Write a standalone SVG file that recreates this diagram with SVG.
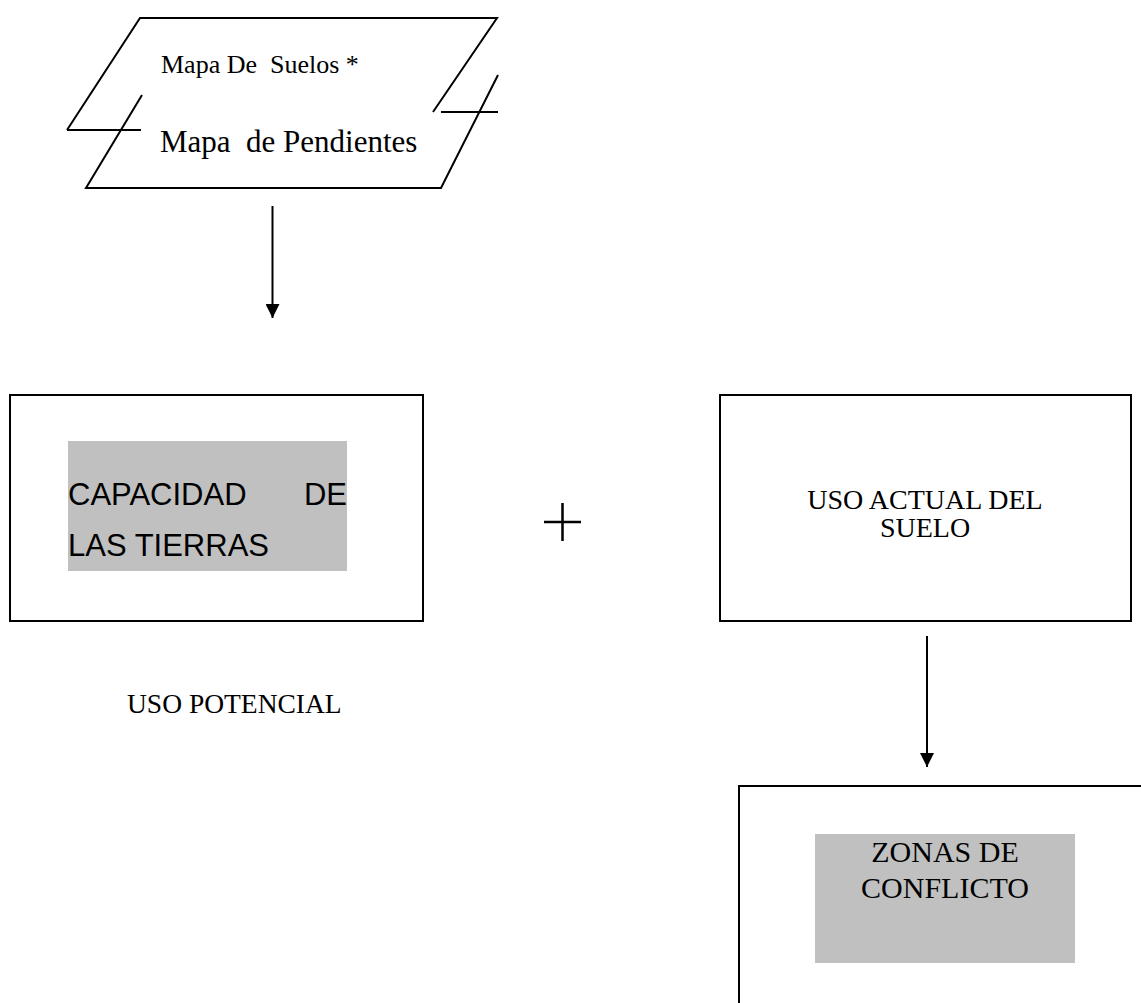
<svg xmlns="http://www.w3.org/2000/svg" width="1141" height="1003" viewBox="0 0 1141 1003">
<style>
.ln{fill:none;stroke:#000;stroke-width:2}
.box{fill:#fff;stroke:#000;stroke-width:2}
.gray{fill:#c0c0c0;stroke:none}
.serif{font-family:"Liberation Serif","Times New Roman",serif;fill:#000}
.sans{font-family:"Liberation Sans",Arial,sans-serif;fill:#000}
</style>
<defs>
<marker id="arr" markerWidth="7" markerHeight="7" refX="7" refY="3.5" orient="auto" markerUnits="strokeWidth">
<path d="M0,0 L7,3.5 L0,7 Z" fill="#000"/>
</marker>
</defs>
<rect width="1141" height="1003" fill="#fff"/>
<g id="maps">
<path class="ln" d="M67,130 L140,18 L497,18 L433,112"/>
<path class="ln" d="M67,130 L141,130"/>
<path class="ln" d="M142,95 L86,188 L441,188 L498,75"/>
<path class="ln" d="M441,112 L498,112"/>
<text class="serif" x="161" y="73" font-size="26" xml:space="preserve">Mapa De  Suelos *</text>
<text class="serif" x="160" y="152" font-size="31" xml:space="preserve">Mapa  de Pendientes</text>
</g>
<g id="capacidad">
<rect class="box" x="10" y="395" width="413" height="226"/>
<rect class="gray" x="68" y="441" width="279" height="130"/>
<text class="sans" x="68" y="505" font-size="31">CAPACIDAD</text>
<text class="sans" x="347" y="505" font-size="31" text-anchor="end">DE</text>
<text class="sans" x="68" y="556" font-size="31">LAS TIERRAS</text>
</g>
<g id="plus">
<path class="ln" style="stroke-width:2.5" d="M544,522 L581,522 M562.5,503 L562.5,541"/>
</g>
<g id="uso-actual">
<rect class="box" x="720" y="395" width="411" height="226"/>
<text class="serif" x="925" y="509" font-size="28" text-anchor="middle">USO ACTUAL DEL</text>
<text class="serif" x="925" y="537" font-size="28" text-anchor="middle">SUELO</text>
</g>
<g id="uso-potencial">
<text class="serif" x="127" y="713" font-size="27.5">USO POTENCIAL</text>
</g>
<g id="zonas">
<path class="ln" d="M739,1003 L739,786 L1141,786"/>
<rect class="gray" x="815" y="834" width="260" height="129"/>
<text class="serif" x="945" y="862" font-size="30" text-anchor="middle">ZONAS DE</text>
<text class="serif" x="945" y="898" font-size="30" text-anchor="middle">CONFLICTO</text>
</g>
<g id="connectors">
<path class="ln" d="M272.5,206 L272.5,318" marker-end="url(#arr)"/>
<path class="ln" d="M927,636 L927,767" marker-end="url(#arr)"/>
</g>
</svg>
